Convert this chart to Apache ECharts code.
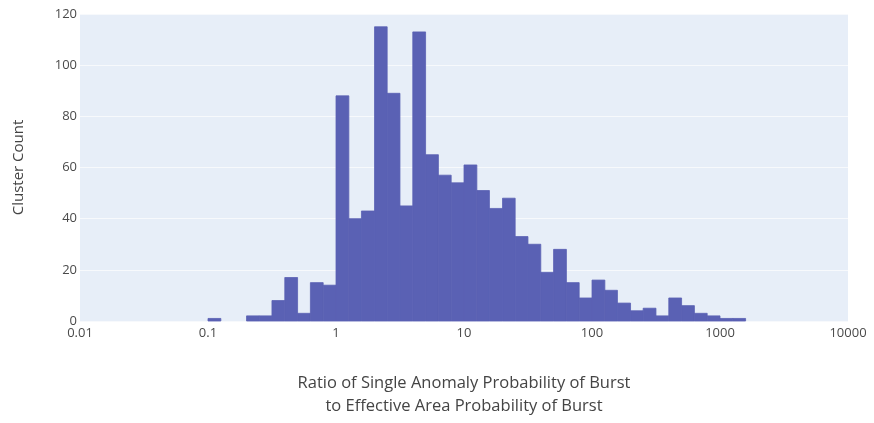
<!DOCTYPE html>
<html>
<head>
<meta charset="utf-8">
<script src="https://cdn.jsdelivr.net/npm/echarts@6/dist/echarts.min.js"></script>
<style>
  html, body { margin: 0; padding: 0; background: #ffffff; }
  #chart { width: 874px; height: 423px; }
</style>
</head>
<body>
<div id="chart"></div>
<script>
// Histogram bin edges (log-spaced, 10 bins per decade) and the count in each bin
const binEdges = [
  0.1, 0.126, 0.158, 0.2, 0.251, 0.316, 0.398, 0.501, 0.631, 0.794,
  1, 1.26, 1.58, 2, 2.51, 3.16, 3.98, 5.01, 6.31, 7.94,
  10, 12.6, 15.8, 20, 25.1, 31.6, 39.8, 50.1, 63.1, 79.4,
  100, 126, 158, 200, 251, 316, 398, 501, 631, 794,
  1000, 1259, 1585
];
const clusterCounts = [
  1, 0, 0, 2, 2, 8, 17, 3, 15, 14,
  88, 40, 43, 115, 89, 45, 113, 65, 57, 54,
  61, 51, 44, 48, 33, 30, 19, 28, 15, 9,
  16, 12, 7, 4, 5, 2, 9, 6, 3, 2,
  1, 1
];
const xTickValues = [0.01, 0.1, 1, 10, 100, 1000, 10000];
const yTickValues = [0, 20, 40, 60, 80, 100, 120];

const xTitle = 'Ratio of Single Anomaly Probability of Burst\nto Effective Area Probability of Burst';
const yTitle = 'Cluster Count';

const barData = clusterCounts.map((c, i) => [binEdges[i], binEdges[i + 1], c]);

const chart = echarts.init(document.getElementById('chart'), null, { renderer: 'canvas' });

const labelFont = { fontFamily: 'Open Sans', fontSize: 13, color: '#4a4a4a' };
const barColor = '#5a61b4';

chart.setOption({
  animation: false,
  backgroundColor: '#ffffff',
  grid: {
    left: 80, right: 26, top: 14, bottom: 100,
    show: true, backgroundColor: '#e7eef8', borderWidth: 0
  },
  xAxis: {
    type: 'log',
    logBase: 10,
    min: xTickValues[0],
    max: xTickValues[xTickValues.length - 1],
    axisLine: { show: false },
    axisTick: { show: false },
    splitLine: { show: false },
    axisLabel: Object.assign({ margin: 6, formatter: v => String(v) }, labelFont),
    name: xTitle,
    nameLocation: 'middle',
    nameGap: 51,
    nameTextStyle: { fontFamily: 'Open Sans', fontSize: 16.5, color: '#444444', lineHeight: 23 }
  },
  yAxis: {
    type: 'value',
    min: yTickValues[0],
    max: yTickValues[yTickValues.length - 1],
    interval: 20,
    axisLine: { show: false },
    axisTick: { show: false },
    splitLine: { show: true, lineStyle: { color: '#f7f9fc', width: 1 } },
    axisLabel: Object.assign({ margin: 3 }, labelFont),
    name: yTitle,
    nameLocation: 'middle',
    nameRotate: 90,
    nameGap: 54,
    nameTextStyle: { fontFamily: 'Open Sans', fontSize: 15, color: '#444444' }
  },
  series: [{
    type: 'custom',
    data: barData,
    encode: { x: [0, 1], y: 2 },
    renderItem: function (params, api) {
      if (api.value(2) <= 0) return null; // empty bins draw nothing
      const lo = api.coord([api.value(0), 0]);
      const hi = api.coord([api.value(1), api.value(2)]);
      return {
        type: 'rect',
        shape: { x: lo[0], y: hi[1], width: hi[0] - lo[0], height: lo[1] - hi[1] },
        style: { fill: barColor, stroke: barColor, lineWidth: 0.8 }
      };
    }
  }]
});
</script>
</body>
</html>
